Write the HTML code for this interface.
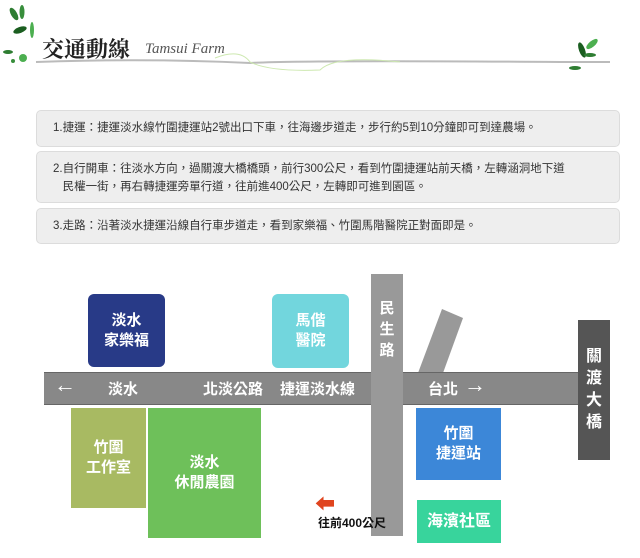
<!DOCTYPE html>
<html><head><meta charset="utf-8"><style>
body{margin:0;width:640px;height:558px;background:#fff;position:relative;overflow:hidden;font-family:"Liberation Sans","Noto Sans CJK TC",sans-serif}
.a{position:absolute}
.box{position:absolute;left:36px;width:584px;background:#eeeeee;border:1px solid #dcdcdc;border-radius:5px;font-size:11.5px;color:#333;line-height:18px;box-sizing:border-box;padding:8px 0 0 16px}
.b{position:absolute;color:#fff;font-weight:bold;font-size:15px;text-align:center;display:flex;align-items:center;justify-content:center;line-height:20px}
.r{position:absolute;color:#fff;font-weight:bold;font-size:15px;top:378px}
</style></head><body>
<svg class="a" style="left:0;top:0" width="640" height="80">
<path d="M36 62 Q150 58 250 63 Q300 60 560 62 L610 62" stroke="#bbb" stroke-width="2" fill="none"/>
<path d="M215 58 Q240 48 250 62 Q270 72 320 70 Q335 55 400 62" stroke="#cde8b0" stroke-width="1" fill="none"/>
<ellipse cx="14" cy="14" rx="3" ry="7" fill="#2e7d32" transform="rotate(-30 14 14)"/>
<ellipse cx="22" cy="12" rx="2.5" ry="7" fill="#388e3c"/>
<ellipse cx="20" cy="30" rx="7" ry="3" fill="#1b5e20" transform="rotate(-20 20 30)"/>
<ellipse cx="32" cy="30" rx="2" ry="8" fill="#4caf50"/>
<ellipse cx="8" cy="52" rx="5" ry="2" fill="#2e7d32"/>
<circle cx="23" cy="58" r="4" fill="#4caf50"/><circle cx="13" cy="61" r="2" fill="#388e3c"/>
<ellipse cx="582" cy="50" rx="3" ry="8" fill="#1b5e20" transform="rotate(-20 582 50)"/>
<ellipse cx="592" cy="44" rx="7" ry="3" fill="#4caf50" transform="rotate(-40 592 44)"/>
<ellipse cx="590" cy="55" rx="6" ry="2" fill="#2e7d32"/>
<ellipse cx="575" cy="68" rx="6" ry="2" fill="#2e7d32"/>
</svg>
<div class="a" style="left:42px;top:33px;font-size:22px;font-weight:bold;font-family:'Liberation Serif','Noto Serif CJK SC',serif;color:#222">交通動線</div>
<div class="a" style="left:145px;top:41px;font-size:15px;font-style:italic;font-family:'Liberation Serif',serif;color:#555">Tamsui Farm</div>
<div class="box" style="top:110px;height:37px">1.捷運：捷運淡水線竹圍捷運站2號出口下車，往海邊步道走，步行約5到10分鐘即可到達農場。</div>
<div class="box" style="top:151px;height:52px">2.自行開車：往淡水方向，過關渡大橋橋頭，前行300公尺，看到竹圍捷運站前天橋，左轉涵洞地下道<br>&nbsp;&nbsp;&nbsp;民權一街，再右轉捷運旁單行道，往前進400公尺，左轉即可進到園區。</div>
<div class="box" style="top:208px;height:36px">3.走路：沿著淡水捷運沿線自行車步道走，看到家樂福、竹圍馬階醫院正對面即是。</div>
<svg class="a" style="left:0;top:0" width="640" height="558"><polygon points="418,373 443,373 463,318 442,309" fill="#999"/></svg>
<div class="a" style="left:44px;top:372px;width:535px;height:31px;background:#888;border-top:1px solid #666;border-bottom:1px solid #666"></div>
<div class="a" style="left:371px;top:274px;width:32px;height:262px;background:#999"></div>
<div class="a" style="left:578px;top:320px;width:32px;height:140px;background:#555"></div>
<div class="b" style="left:578px;top:320px;width:32px;height:140px;font-size:16px;line-height:22px">關<br>渡<br>大<br>橋</div>
<div class="b" style="left:371px;top:298px;width:32px;font-size:15px;line-height:21px;color:#fff">民<br>生<br>路</div>
<div class="r" style="left:54px;font-size:22px;top:372px">←</div>
<div class="r" style="left:108px">淡水</div>
<div class="r" style="left:203px">北淡公路</div>
<div class="r" style="left:280px">捷運淡水線</div>
<div class="r" style="left:428px">台北</div>
<div class="r" style="left:464px;font-size:22px;top:372px">→</div>
<div class="b" style="left:88px;top:294px;width:77px;height:73px;background:#283a87;border-radius:6px">淡水<br>家樂福</div>
<div class="b" style="left:272px;top:294px;width:77px;height:74px;background:#72d6dd;border-radius:6px">馬偕<br>醫院</div>
<div class="b" style="left:71px;top:408px;width:75px;height:100px;background:#a8ba62">竹圍<br>工作室</div>
<div class="b" style="left:148px;top:408px;width:113px;height:130px;background:#6ec05a">淡水<br>休閒農園</div>
<div class="b" style="left:416px;top:408px;width:85px;height:72px;background:#3c87d8">竹圍<br>捷運站</div>
<div class="b" style="left:417px;top:500px;width:84px;height:43px;background:#38d49c;font-size:16px">海濱社區</div>
<div class="a" style="left:315px;top:497px;color:#e0441e;font-size:20px;font-weight:bold;line-height:16px">⬅</div>
<div class="a" style="left:318px;top:514px;font-size:12px;font-weight:bold;color:#111">往前400公尺</div>
</body></html>
